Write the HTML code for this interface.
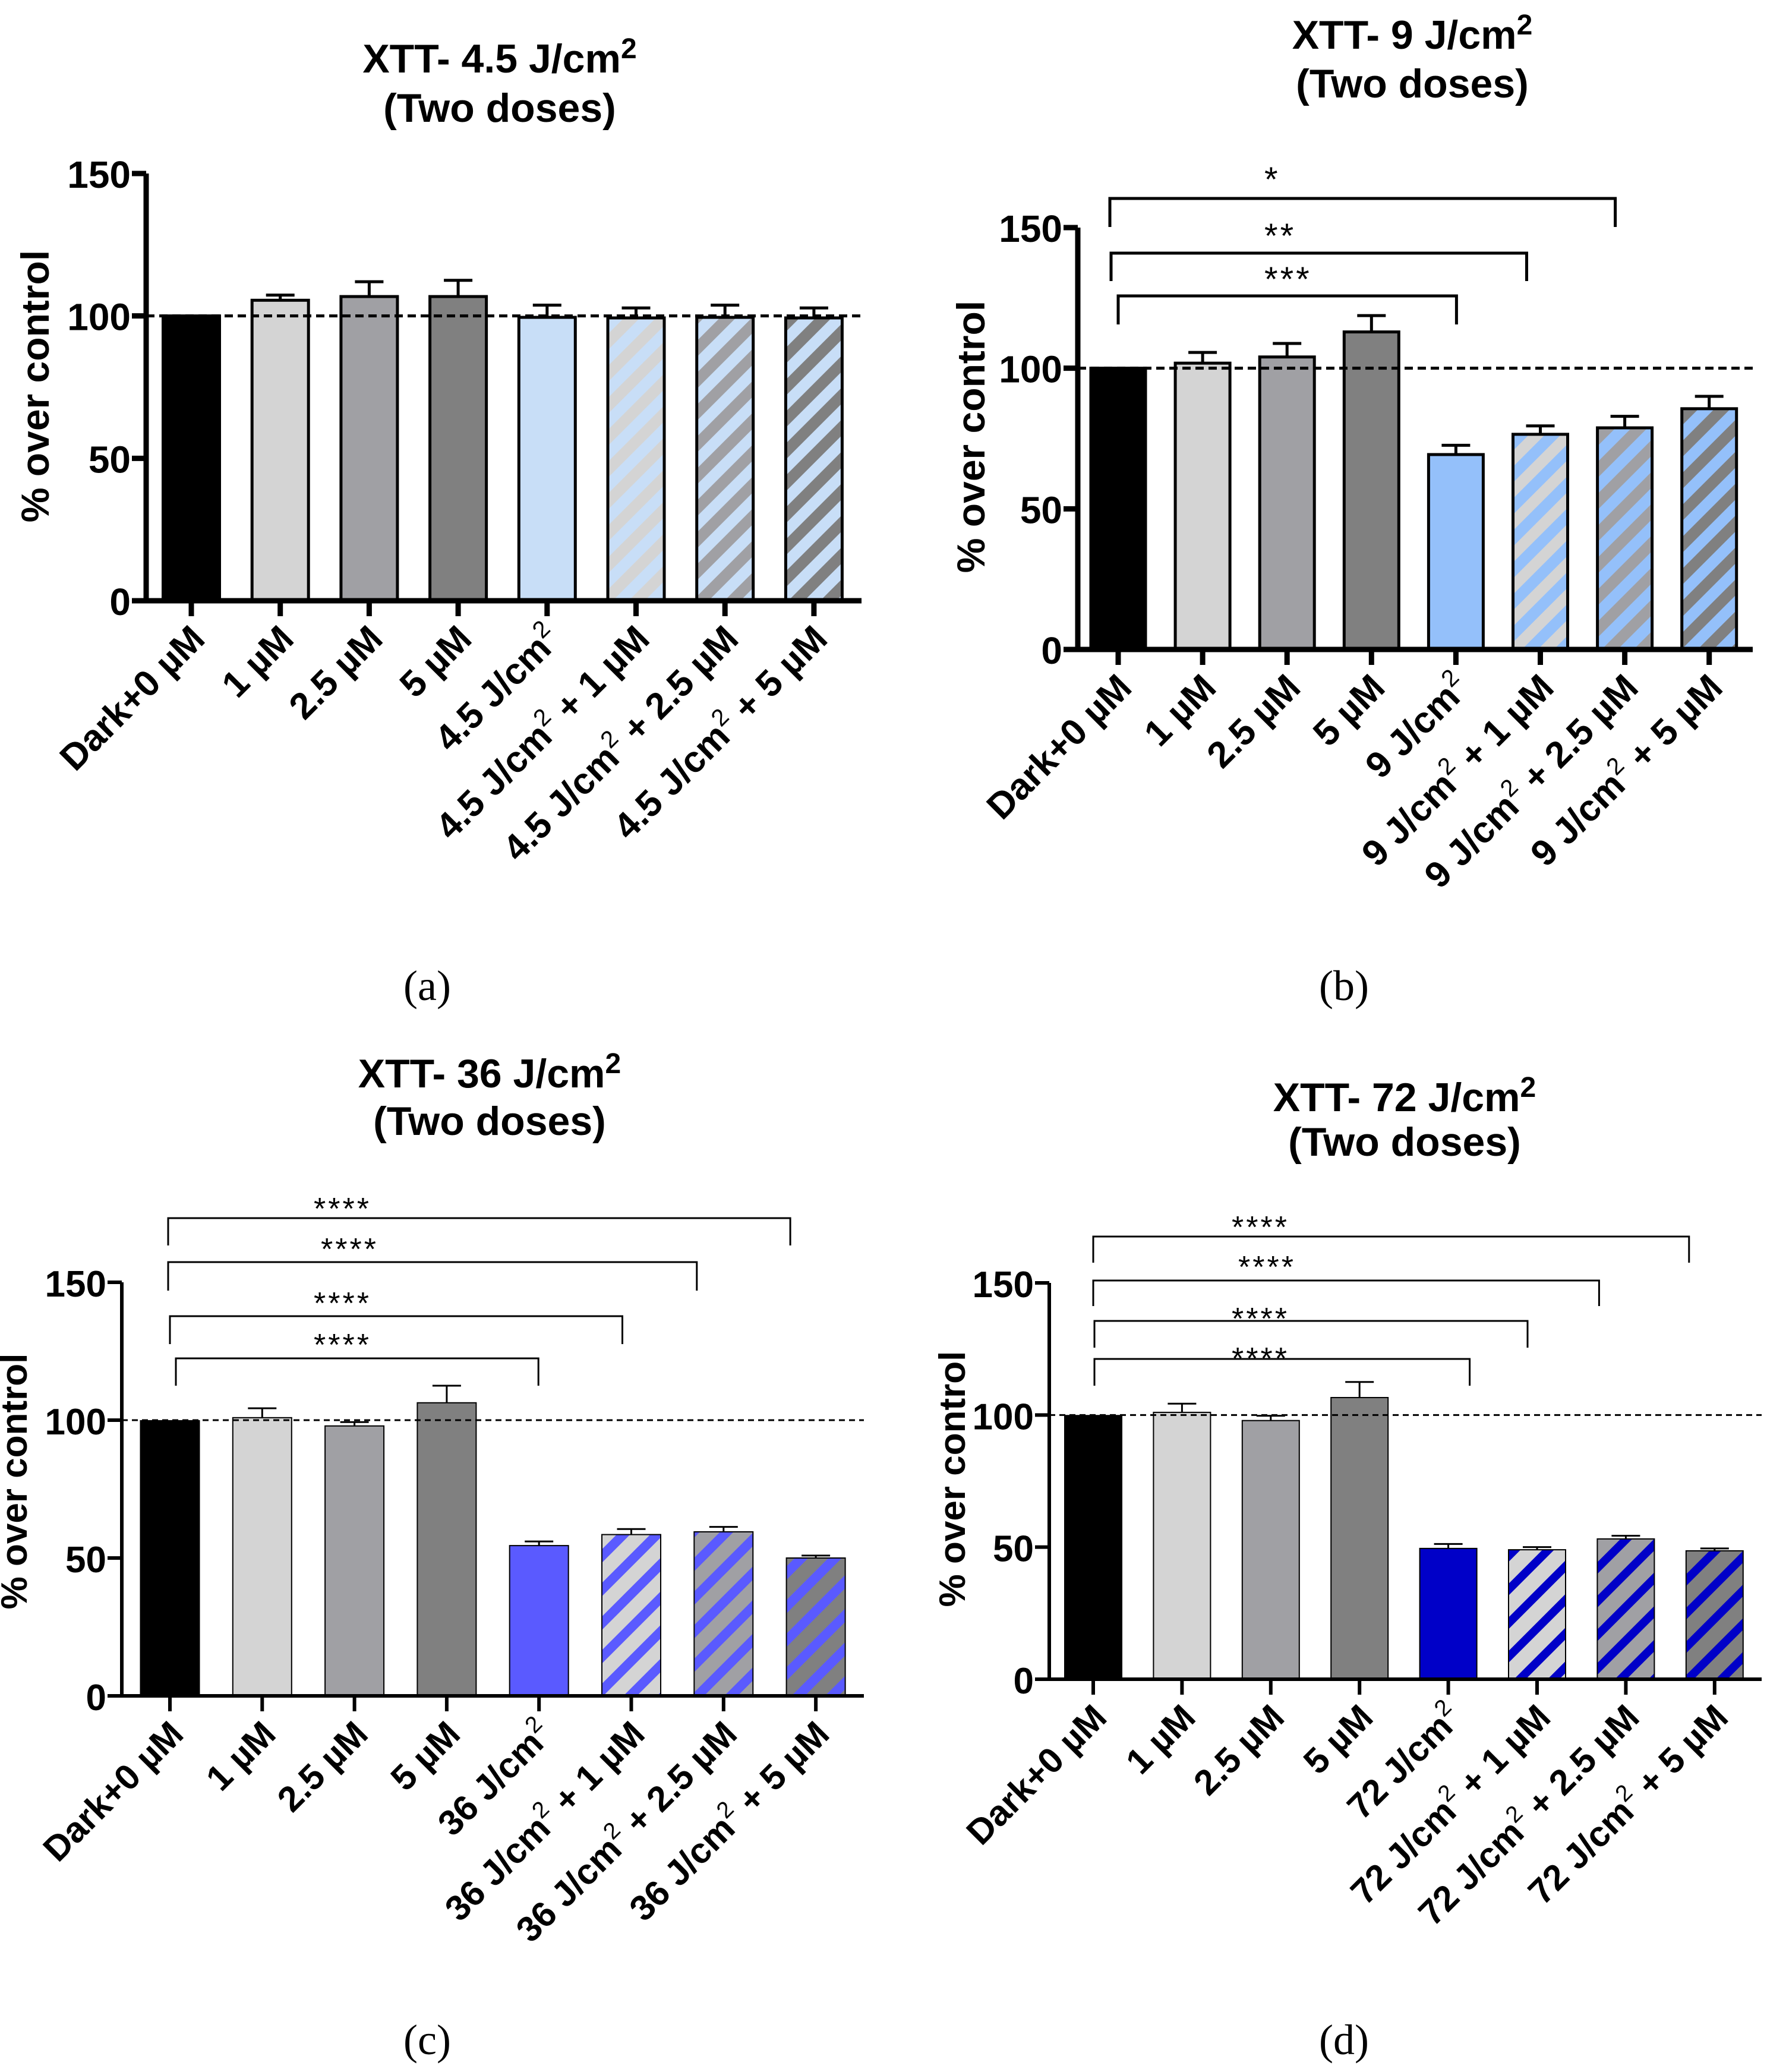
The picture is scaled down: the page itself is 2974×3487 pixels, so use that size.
<!DOCTYPE html>
<html><head><meta charset="utf-8">
<style>
html,body{margin:0;padding:0;background:#fff;}
svg{display:block;}
text{font-family:"Liberation Sans",Arial,sans-serif;}
</style></head>
<body>
<svg id="fig" width="2974" height="3487" viewBox="0 0 2974 3487" xmlns="http://www.w3.org/2000/svg">
<defs>
  <pattern id="hA1" patternUnits="userSpaceOnUse" width="38" height="38" patternTransform="rotate(45)"><rect width="38" height="38" fill="#d4d4d4"/><rect width="19" height="38" fill="#c8def7"/></pattern>
  <pattern id="hA2" patternUnits="userSpaceOnUse" width="38" height="38" patternTransform="rotate(45)"><rect width="38" height="38" fill="#a0a0a4"/><rect width="19" height="38" fill="#c8def7"/></pattern>
  <pattern id="hA3" patternUnits="userSpaceOnUse" width="38" height="38" patternTransform="rotate(45)"><rect width="38" height="38" fill="#808080"/><rect width="19" height="38" fill="#c8def7"/></pattern>
  <pattern id="hB1" patternUnits="userSpaceOnUse" width="38" height="38" patternTransform="rotate(45)"><rect width="38" height="38" fill="#d4d4d4"/><rect width="19" height="38" fill="#94c0fa"/></pattern>
  <pattern id="hB2" patternUnits="userSpaceOnUse" width="38" height="38" patternTransform="rotate(45)"><rect width="38" height="38" fill="#a0a0a4"/><rect width="19" height="38" fill="#94c0fa"/></pattern>
  <pattern id="hB3" patternUnits="userSpaceOnUse" width="38" height="38" patternTransform="rotate(45)"><rect width="38" height="38" fill="#808080"/><rect width="19" height="38" fill="#94c0fa"/></pattern>
  <pattern id="hC1" patternUnits="userSpaceOnUse" width="40" height="40" patternTransform="rotate(45)"><rect width="40" height="40" fill="#d4d4d4"/><rect width="16" height="40" fill="#5a5aff"/></pattern>
  <pattern id="hC2" patternUnits="userSpaceOnUse" width="40" height="40" patternTransform="rotate(45)"><rect width="40" height="40" fill="#a0a0a4"/><rect width="16" height="40" fill="#5a5aff"/></pattern>
  <pattern id="hC3" patternUnits="userSpaceOnUse" width="40" height="40" patternTransform="rotate(45)"><rect width="40" height="40" fill="#808080"/><rect width="16" height="40" fill="#5a5aff"/></pattern>
  <pattern id="hD1" patternUnits="userSpaceOnUse" width="40" height="40" patternTransform="rotate(45)"><rect width="40" height="40" fill="#d4d4d4"/><rect width="14" height="40" fill="#0000c8"/></pattern>
  <pattern id="hD2" patternUnits="userSpaceOnUse" width="40" height="40" patternTransform="rotate(45)"><rect width="40" height="40" fill="#a0a0a4"/><rect width="14" height="40" fill="#0000c8"/></pattern>
  <pattern id="hD3" patternUnits="userSpaceOnUse" width="40" height="40" patternTransform="rotate(45)"><rect width="40" height="40" fill="#808080"/><rect width="14" height="40" fill="#0000c8"/></pattern>
</defs>
</svg>
<script>
// ---- data ----
const categoriesA = ["Dark+0 µM","1 µM","2.5 µM","5 µM","4.5 J/cm|","4.5 J/cm| + 1 µM","4.5 J/cm| + 2.5 µM","4.5 J/cm| + 5 µM"];
const categoriesB = ["Dark+0 µM","1 µM","2.5 µM","5 µM","9 J/cm|","9 J/cm| + 1 µM","9 J/cm| + 2.5 µM","9 J/cm| + 5 µM"];
const categoriesC = ["Dark+0 µM","1 µM","2.5 µM","5 µM","36 J/cm|","36 J/cm| + 1 µM","36 J/cm| + 2.5 µM","36 J/cm| + 5 µM"];
const categoriesD = ["Dark+0 µM","1 µM","2.5 µM","5 µM","72 J/cm|","72 J/cm| + 1 µM","72 J/cm| + 2.5 µM","72 J/cm| + 5 µM"];
const valuesA = [100, 105.5, 106.8, 106.8, 99.5, 99.3, 99.5, 99.3];
const errorsA = [100, 107.3, 112, 112.5, 103.8, 102.8, 103.8, 102.8];
const valuesB = [100, 101.8, 104, 112.9, 69.3, 76.5, 78.8, 85.6];
const errorsB = [100, 105.6, 108.8, 118.7, 72.6, 79.5, 82.9, 90];
const valuesC = [99.8, 100.9, 97.9, 106.3, 54.5, 58.5, 59.5, 50];
const errorsC = [99.8, 104.3, 99.3, 112.5, 56, 60.5, 61.3, 50.9];
const valuesD = [99.8, 101, 97.9, 106.6, 49.5, 49, 53.1, 48.6];
const errorsD = [99.8, 104.3, 99.7, 112.5, 51.2, 50, 54.3, 49.5];
const yTicks = [0, 50, 100, 150];
const yTickLabels = ["0", "50", "100", "150"];
const refLine = 100;
const sigB = [["*", 0, 6], ["**", 0, 5], ["***", 0, 4]];
const sigC = [["****", 0, 7], ["****", 0, 6], ["****", 0, 5], ["****", 0, 4]];
const sigD = [["****", 0, 7], ["****", 0, 6], ["****", 0, 5], ["****", 0, 4]];

const NS = "http://www.w3.org/2000/svg";
const svg = document.getElementById("fig");
function mk(tag, attrs, parent) {
  const e = document.createElementNS(NS, tag);
  for (const k in attrs) e.setAttribute(k, attrs[k]);
  (parent || svg).appendChild(e);
  return e;
}
function addLabel(t, str) {
  const parts = str.split("|");
  t.appendChild(document.createTextNode(parts[0]));
  if (parts.length > 1) {
    const s = document.createElementNS(NS, "tspan");
    s.setAttribute("dy", "-26"); s.setAttribute("font-size", "0.65em"); s.setAttribute("font-weight", "normal");
    s.textContent = "2"; t.appendChild(s);
    const r = document.createElementNS(NS, "tspan");
    r.setAttribute("dy", "26"); r.textContent = parts[1]; t.appendChild(r);
  }
}

function drawPanel(p) {
  const g = mk("g", {});
  
  
  const yScale = v => p.y0 - (v / 150) * (p.y0 - p.y150);
  const xScale = i => p.x1 + i * p.dx;
  p.values.forEach((v, i) => {
    const x = xScale(i);
    const yt = yScale(v);
    const r = mk("rect", {x: x - p.bw / 2, y: yt, width: p.bw, height: p.y0 - yt, fill: p.fills[i], stroke: "#000", "stroke-width": p.bs}, g);
    
    
    const ye = yScale(p.errors[i]);
    if (p.errors[i] > v) {
      const e = mk("path", {d: `M${x} ${yt}V${ye}M${x - 24} ${ye}H${x + 24}`, stroke: "#000", "stroke-width": p.es, fill: "none"}, g);
      
      
    }
  });
  const dl = mk("line", {x1: p.ax, x2: p.xEnd, y1: yScale(refLine), y2: yScale(refLine), stroke: "#000", "stroke-width": p.ds, "stroke-dasharray": p.dash}, g);
  
  
  const ya = mk("line", {x1: p.ax, x2: p.ax, y1: p.y150, y2: p.y0 + p.aw / 2, stroke: "#000", "stroke-width": p.aw}, g);
  
  
  const xa = mk("line", {x1: p.ax - p.aw / 2, x2: p.xEnd, y1: p.y0, y2: p.y0, stroke: "#000", "stroke-width": p.aw}, g);
  
  
  yTicks.forEach((t, i) => {
    const y = yScale(t);
    const tk = mk("line", {x1: p.ax - 24, x2: p.ax, y1: y, y2: y, stroke: "#000", "stroke-width": p.aw}, g);
    
    
    const tl = mk("text", {x: p.ax - 26, y: y + 24, "text-anchor": "end", "font-size": p.tf, "font-weight": "bold"}, g);
    tl.textContent = yTickLabels[i];
    
    
  });
  p.cats.forEach((c, i) => {
    const x = xScale(i);
    const tk = mk("line", {x1: x, x2: x, y1: p.y0, y2: p.y0 + 26, stroke: "#000", "stroke-width": p.aw}, g);
    
    
    const lx = x + 26, ly = p.y0 + 68;
    const tl = mk("text", {x: lx, y: ly, "text-anchor": "end", "font-size": p.lf, "font-weight": "bold", transform: `rotate(-45 ${lx} ${ly})`}, g);
    addLabel(tl, c);
    
    
  });
  (p.sig || []).forEach((s, i) => {
    const b = p.br[i];
    const x1 = xScale(s[1]) + b.o1, x2 = xScale(s[2]) + b.o2;
    const br = mk("path", {d: `M${x1} ${b.yb}V${b.y}H${x2}V${b.yb}`, stroke: "#000", "stroke-width": p.bls, fill: "none"}, g);
    
    
    const st = mk("text", {x: b.sx, y: b.sy + 12, "text-anchor": "start", "font-size": p.sf, "letter-spacing": "4"}, g);
    st.textContent = s[0];
    
    
  });
  const yt = mk("text", {x: p.ytx, y: p.yty, "text-anchor": "middle", "font-size": p.ytf, "font-weight": "bold", transform: `rotate(-90 ${p.ytx} ${p.yty})`, "xml:space": "preserve"}, g);
  yt.textContent = p.ytitle;
  
  
  const t1 = mk("text", {x: p.tx, y: p.ty1, "text-anchor": "middle", "font-size": 68, "font-weight": "bold"}, g);
  t1.appendChild(document.createTextNode(p.title));
  const sup = document.createElementNS(NS, "tspan");
  sup.setAttribute("dy", "-24"); sup.setAttribute("font-size", "48"); sup.textContent = "2"; t1.appendChild(sup);
  
  
  const t2 = mk("text", {x: p.tx, y: p.ty2, "text-anchor": "middle", "font-size": 68, "font-weight": "bold"}, g);
  t2.textContent = "(Two doses)";
  
  
  const cp = mk("text", {x: p.cx, y: p.cy, "text-anchor": "middle", "font-size": 72}, g);
  cp.setAttribute("style", "font-family:'Liberation Serif',serif");
  cp.textContent = p.caption;
  
  
}

drawPanel({name: "panel-a", cats: categoriesA, values: valuesA, errors: errorsA,
  fills: ["#000", "#d4d4d4", "#a0a0a4", "#808080", "#c8def7", "url(#hA1)", "url(#hA2)", "url(#hA3)"],
  ax: 246, y0: 1011, y150: 292, x1: 322, dx: 149.7, bw: 95, xEnd: 1450, aw: 9, bs: 5, es: 5, ds: 5, dash: "14 8",
  tf: 64, lf: 62, ytitle: "% over control", ytx: 82, yty: 650, ytf: 66,
  title: "XTT- 4.5 J/cm", tx: 841, ty1: 122, ty2: 205, caption: "(a)", cx: 719, cy: 1683});

drawPanel({name: "panel-b", cats: categoriesB, values: valuesB, errors: errorsB,
  fills: ["#000", "#d4d4d4", "#a0a0a4", "#808080", "#94c0fa", "url(#hB1)", "url(#hB2)", "url(#hB3)"],
  ax: 1814, y0: 1093, y150: 383, x1: 1882, dx: 142.1, bw: 92, xEnd: 2950, aw: 9, bs: 5, es: 5, ds: 5, dash: "14 8",
  tf: 64, lf: 62, ytitle: "% over control", ytx: 1657, yty: 735, ytf: 66,
  sig: sigB, bls: 5, sf: 58,
  br: [{y: 334, yb: 382, o1: -14, o2: -16, sx: 2128, sy: 310},
       {y: 426, yb: 473, o1: -12, o2: -23, sx: 2128, sy: 405},
       {y: 498, yb: 546, o1: 0, o2: 1, sx: 2128, sy: 478}],
  title: "XTT- 9 J/cm", tx: 2377, ty1: 82, ty2: 164, caption: "(b)", cx: 2262, cy: 1683});

drawPanel({name: "panel-c", cats: categoriesC, values: valuesC, errors: errorsC,
  fills: ["#000", "#d4d4d4", "#a0a0a4", "#808080", "#5a5aff", "url(#hC1)", "url(#hC2)", "url(#hC3)"],
  ax: 205, y0: 2854, y150: 2158, x1: 286, dx: 155.3, bw: 99, xEnd: 1454, aw: 6, bs: 2, es: 3, ds: 3, dash: "10 7",
  tf: 62, lf: 60, ytitle: "%  over control", ytx: 45, yty: 2493, ytf: 62,
  sig: sigC, bls: 3, sf: 52,
  br: [{y: 2050, yb: 2096, o1: -3, o2: -43, sx: 528, sy: 2040},
       {y: 2124, yb: 2172, o1: -3, o2: -45, sx: 540, sy: 2108},
       {y: 2215, yb: 2262, o1: 0, o2: -15, sx: 528, sy: 2199},
       {y: 2286, yb: 2332, o1: 10, o2: -1, sx: 528, sy: 2269}],
  title: "XTT- 36 J/cm", tx: 824, ty1: 1830, ty2: 1910, caption: "(c)", cx: 719, cy: 3457});

drawPanel({name: "panel-d", cats: categoriesD, values: valuesD, errors: errorsD,
  fills: ["#000", "#d4d4d4", "#a0a0a4", "#808080", "#0000c8", "url(#hD1)", "url(#hD2)", "url(#hD3)"],
  ax: 1766, y0: 2826, y150: 2159, x1: 1840, dx: 149.4, bw: 96, xEnd: 2965, aw: 6, bs: 2, es: 3, ds: 3, dash: "10 7",
  tf: 62, lf: 60, ytitle: "%  over control", ytx: 1624, yty: 2489, ytf: 62,
  sig: sigD, bls: 3, sf: 52,
  br: [{y: 2081, yb: 2125, o1: 0, o2: -43, sx: 2073, sy: 2071},
       {y: 2155, yb: 2198, o1: 0, o2: -45, sx: 2084, sy: 2138},
       {y: 2223, yb: 2268, o1: 2, o2: -16, sx: 2073, sy: 2225},
       {y: 2287, yb: 2332, o1: 2, o2: 36, sx: 2073, sy: 2292}],
  title: "XTT- 72 J/cm", tx: 2364, ty1: 1870, ty2: 1945, caption: "(d)", cx: 2262, cy: 3457});
</script>
</body></html>
